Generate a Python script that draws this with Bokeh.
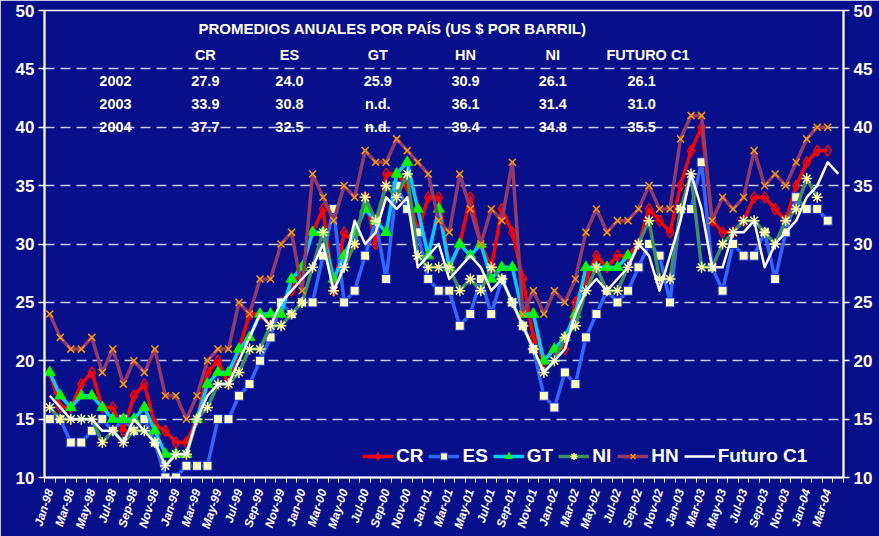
import math
from bokeh.plotting import figure
from bokeh.models import (ColumnDataSource, LinearAxis, FixedTicker, Range1d,
                          Legend, LegendItem)
from bokeh.embed import file_html
from bokeh.resources import INLINE
from bokeh.core.properties import value

# ---------------- data ----------------
month_names = ["Jan", "Feb", "Mar", "Apr", "May", "Jun",
               "Jul", "Aug", "Sep", "Oct", "Nov", "Dec"]
year_suffix = ["98", "99", "00", "01", "02", "03", "04"]
months = [f"{m}-{y}" for y in year_suffix for m in month_names][:76]

CR = [19, 16, 16, 18, 19, 16, 16, 14, 17, 18, 14.5, 14,
      13, 13, 15, 19, 20, 18, 21, 24, 24, 23, 25, 26,
      28, 31, 33, 26, 31, 30, 34, 30, 36, 36, 35, 31,
      34, 34, 28, 30, 34, 30, 28, 33, 31, 27, 22, 20,
      21, 21, 25, 27, 29, 28, 29, 29, 30, 33, 32, 31,
      35, 38, 40, 32, 31, 31, 32, 34, 34, 33, 32, 35,
      37, 38, 38, None]

ES = [15, 15, 13, 13, 14, 15, 14, 15, 14, 15, 13, 10,
      10, 11, 11, 11, 15, 15, 17, 18, 20, 22, 25, 24,
      25, 25, 29, 33, 25, 26, 29, 32, 27, 35, 33, 31,
      27, 26, 26, 23, 24, 27, 24, 27, 25, 23, 21, 17,
      16, 19, 18, 22, 24, 26, 25, 26, 28, 30, 29, 25,
      33, 33, 37, 28, 26, 30, 29, 29, 31, 27, 31, 34,
      33, 33, 32, None]

GT = [19, 17, 16, 17, 17, 16, 15, 15, 15, 16, 14, 12,
      12, 12, 15, 18, 19, 19, 21, 22, 24, 24, 24, 27,
      28, 31, 31, 27, 29, 31, 33, 32, 31, 36, 37, 33,
      29, 33, 28, 30, 29, 30, 27, 28, 28, 24, 24, 20,
      21, 22, 24, 28, 28, 28, 28, 29, None, None, None, None,
      None, None, None, None, None, None, None, None, None, None, None, None,
      None, None, None, None]

NI = [16, 15, 15, 15, 15, 13, 14, 13, 14, 14, 13, 11,
      12, 12, 15, 16, 18, 18, 19, 21, 21, 23, 23, 24,
      25, 28, 31, 26, 28, 30, 34, 32, 35, 34, 36, 29,
      28, 28, 28, 26, 27, 26, 28, 27, 25, 23, 21, 19,
      20, 22, 23, 26, 28, 26, 26, 28, 30, 32, 27, 27,
      33, 36, 28, 28, 30, 31, 32, 32, 31, 30, 32, 33,
      35.6, 34, None, None]

HN = [24, 22, 21, 21, 22, 19, 21, 18, 20, 19, 21, 17,
      17, 15, 17, 20, 21, 21, 25, 24, 27, 27, 30, 31,
      26, 36, 34, 32, 35, 34, 38, 37, 37, 39, 38, 37,
      36, 32, 31, 36, 33, 30, 33, 32, 37, 24, 26, 24,
      26, 25, 27, 31, 33, 31, 32, 32, 33, 35, 33, 33,
      39, 41, 41, 32, 34, 33, 34, 38, 35, 36, 35, 37,
      39, 40, 40, None]

FUT = [17, 16, 15, 15, 15, 14, 14, 13, 15, 14, 13, 11,
       12, 12, 15, 17, 18, 18, 20, 22, 24, 23, 25, 26,
       27, 28, 30, 26, 28, 32, 30, 31, 34, 33, 34, 28,
       29, 30, 27, 28, 29, 28, 26, 27, 25, 23, 21, 19,
       20, 21, 24, 26, 27, 26, 27, 28, 30, 29, 26, 29,
       32, 36, 33, 28, 28, 31, 31, 32, 28, 30, 31, 32,
       34, 35, 37, 36]

y_ticks = [10, 15, 20, 25, 30, 35, 40, 45, 50]

# annual averages table
table_title = "PROMEDIOS ANUALES POR PAÍS (US $ POR BARRIL)"
table_cols = ["CR", "ES", "GT", "HN", "NI", "FUTURO C1"]
table_years = ["2002", "2003", "2004"]
avg_CR = ["27.9", "33.9", "37.7"]
avg_ES = ["24.0", "30.8", "32.5"]
avg_GT = ["25.9", "n.d.", "n.d."]
avg_HN = ["30.9", "36.1", "39.4"]
avg_NI = ["26.1", "31.4", "34.8"]
avg_FUT = ["26.1", "31.0", "35.5"]

# ---------------- figure ----------------
BG = "#07108a"
FONT = "Liberation Sans"

x = list(range(len(months)))
nan = float("nan")


def clean(v):
    return [nan if a is None else a for a in v]


p = figure(width=879, height=536,
           x_range=Range1d(-0.5, 75.5), y_range=Range1d(10, 50),
           output_backend="svg", toolbar_location=None,
           background_fill_color=BG, border_fill_color=BG,
           min_border_left=44, min_border_right=36,
           min_border_top=10, min_border_bottom=59)
p.outline_line_color = "white"
p.outline_line_width = 1.5

# y axes
yt = FixedTicker(ticks=y_ticks)
p.yaxis.ticker = yt
right_axis = LinearAxis(ticker=yt)
p.add_layout(right_axis, "right")
for ax in (p.yaxis[0], right_axis):
    ax.axis_line_color = "white"
    ax.axis_line_width = 2
    ax.major_tick_line_color = "white"
    ax.major_tick_line_width = 1.5
    ax.major_tick_out = 6
    ax.major_tick_in = 0
    ax.minor_tick_line_color = None
    ax.major_label_text_color = "white"
    ax.major_label_text_font = FONT
    ax.major_label_text_font_style = "bold"
    ax.major_label_text_font_size = "17px"
    ax.major_label_standoff = 4

# x axis
xax = p.xaxis[0]
xax.ticker = FixedTicker(ticks=list(range(0, 76, 2)),
                         minor_ticks=[i - 0.5 for i in range(77)])
xax.major_label_overrides = {i: months[i] for i in range(0, 76, 2)}
xax.major_label_orientation = 1.26
xax.axis_line_color = "white"
xax.axis_line_width = 2
xax.major_tick_line_color = None
xax.minor_tick_line_color = "white"
xax.minor_tick_line_width = 1
xax.minor_tick_out = 5
xax.minor_tick_in = 0
xax.major_label_text_color = "white"
xax.major_label_text_font = FONT
xax.major_label_text_font_style = "bold italic"
xax.major_label_text_font_size = "12px"
xax.major_label_standoff = 6

# grid
p.xgrid.visible = False
p.ygrid.ticker = yt
p.ygrid.grid_line_color = "#c8c8ee"
p.ygrid.grid_line_width = 1.5
p.ygrid.grid_line_dash = "10 6"

# series
src = ColumnDataSource(dict(x=x, CR=clean(CR), ES=clean(ES), GT=clean(GT),
                            NI=clean(NI), HN=clean(HN), FUT=clean(FUT)))

items = []

l = p.line("x", "CR", source=src, line_color="#ff0000", line_width=3.5, line_join="round")
s = p.scatter("x", "CR", source=src, marker="diamond", size=11,
              fill_alpha=0, line_color="#ff0000", line_width=1.5)
items.append(LegendItem(label="CR", renderers=[l, s]))

l = p.line("x", "ES", source=src, line_color="#3366ff", line_width=3.5, line_join="round")
s = p.scatter("x", "ES", source=src, marker="square", size=9,
              fill_color="#ffffc0", line_color="#1a33cc", line_width=1)
items.append(LegendItem(label="ES", renderers=[l, s]))

l = p.line("x", "GT", source=src, line_color="#00ccff", line_width=3.5, line_join="round")
s = p.scatter("x", "GT", source=src, marker="triangle", size=11,
              fill_color="#00ff00", line_color="#00ee00", line_width=1)
items.append(LegendItem(label="GT", renderers=[l, s]))

l = p.line("x", "NI", source=src, line_color="#3f8f5f", line_width=3.5, line_join="round")
s = p.scatter("x", "NI", source=src, marker="asterisk", size=11,
              line_color="#ffff99", line_width=1.5)
items.append(LegendItem(label="NI", renderers=[l, s]))

l = p.line("x", "HN", source=src, line_color="#933a66", line_width=3.5, line_join="round")
s = p.scatter("x", "HN", source=src, marker="x", size=10,
              line_color="#ff9900", line_width=1.5)
items.append(LegendItem(label="HN", renderers=[l, s]))

l = p.line("x", "FUT", source=src, line_color="white", line_width=2.5, line_join="round")
items.append(LegendItem(label="Futuro C1", renderers=[l]))

legend = Legend(items=items, location=(316, 8), orientation="horizontal")
legend.background_fill_alpha = 0
legend.border_line_alpha = 0
legend.label_text_color = "white"
legend.label_text_font = FONT
legend.label_text_font_style = "bold"
legend.label_text_font_size = "19px"
legend.glyph_width = 31
legend.glyph_height = 18
legend.label_standoff = 3
legend.spacing = 5
legend.padding = 2
legend.margin = 0
p.add_layout(legend)

# ---------------- annual averages table ----------------
col_x = [14.8, 22.8, 31.2, 39.55, 47.85]
fut_head_x = 56.9
fut_val_x = 56.3
year_x = 6.25
title_y = 48.46
head_y = 46.15
row_y = [44.0, 42.03, 40.06]

tx, ty, tt = [], [], []
for j, c in enumerate(table_cols):
    tx.append(col_x[j] if j < 5 else fut_head_x)
    ty.append(head_y)
    tt.append(c)
for i, yr in enumerate(table_years):
    tx.append(year_x); ty.append(row_y[i]); tt.append(yr)
    for j, col in enumerate([avg_CR, avg_ES, avg_GT, avg_HN, avg_NI, avg_FUT]):
        tx.append(col_x[j] if j < 5 else fut_val_x)
        ty.append(row_y[i])
        tt.append(col[i])

tsrc = ColumnDataSource(dict(x=tx, y=ty, text=tt))
p.text("x", "y", text="text", source=tsrc, text_color="white",
       text_font=value(FONT), text_font_style="bold", text_font_size="14.5px",
       text_align="center", text_baseline="middle")

ttl = ColumnDataSource(dict(x=[32.6], y=[title_y], text=[table_title]))
p.text("x", "y", text="text", source=ttl, text_color="white",
       text_font=value(FONT), text_font_style="bold", text_font_size="15px",
       text_align="center", text_baseline="middle")

open("out.html", "w").write(file_html(p, INLINE))
